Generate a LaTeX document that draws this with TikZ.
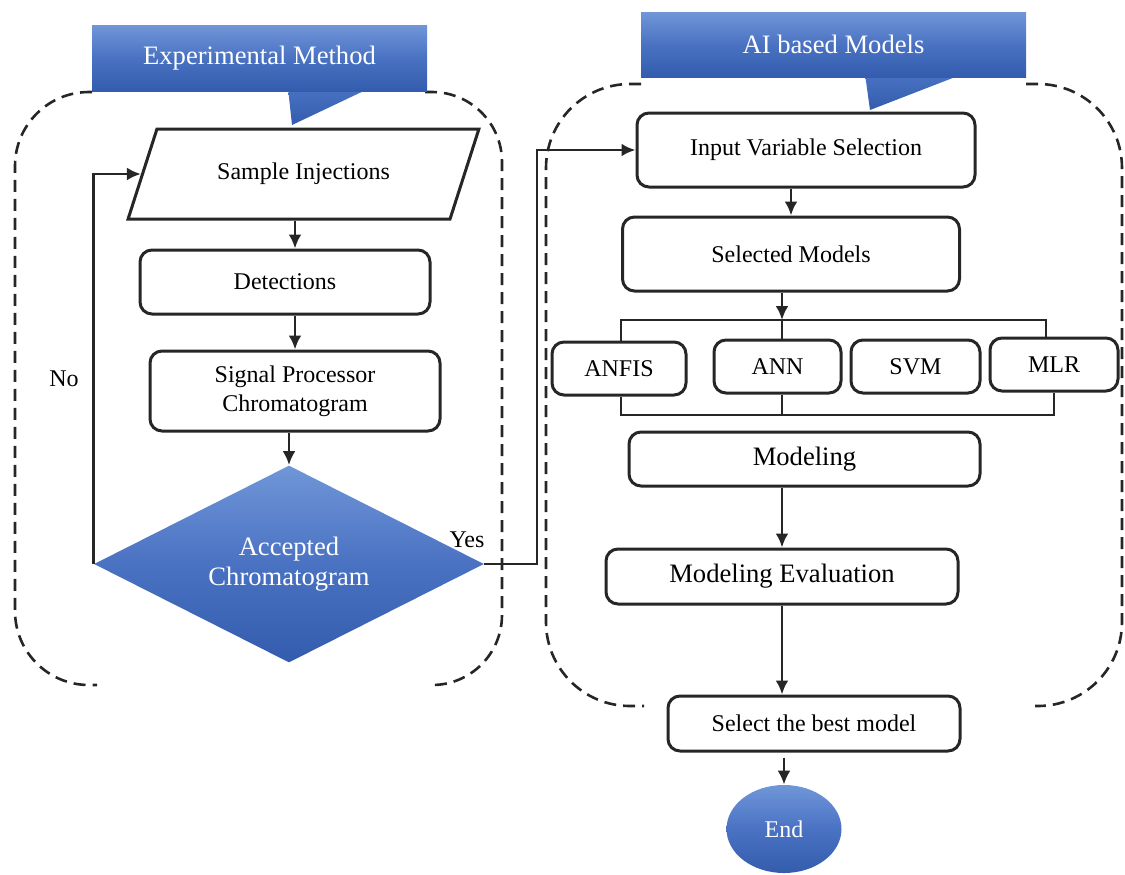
\documentclass[tikz,border=0pt]{standalone}
\usepackage{fontspec}
\setmainfont{Liberation Serif}
\usetikzlibrary{shapes.geometric,arrows.meta,positioning}

\definecolor{bannerlight}{RGB}{112,150,216}
\definecolor{bannermid}{RGB}{74,114,194}
\definecolor{bannerdark}{RGB}{52,92,174}

\begin{document}
\begin{tikzpicture}[x=0.5pt,y=-0.5pt,>={Latex[length=7pt,width=6.5pt]},
  font=\fontsize{12}{14.5}\selectfont,
  procbox/.style={draw=black!85,line width=1.5pt,rounded corners=6pt,align=center,inner sep=0pt},
  flowline/.style={black!85,line width=1.4pt},
  dashbox/.style={black!85,line width=1.3pt,dash pattern=on 6pt off 3.5pt},
  bluefill/.style={top color=bannerlight,bottom color=bannerdark,middle color=bannermid,text=white,inner sep=0pt},
  bigtext/.style={font=\fontsize{13.3}{15}\selectfont}]
  \useasboundingbox (0,0) rectangle (1125,874);

  % dashed containers
  \draw[dashbox,rounded corners=37pt] (92,92) -- (15,92) -- (15,685) -- (97,685);
  \draw[dashbox,rounded corners=35pt] (425,92) -- (502,92) -- (502,685) -- (430,685);
  \draw[dashbox,rounded corners=42pt] (641,84) -- (546,84) -- (546,706) -- (644,706);
  \draw[dashbox,rounded corners=42pt] (1026,84) -- (1122,84) -- (1122,706) -- (1035,706);

  % banners
  \shade[top color=bannermid,bottom color=bannerdark] (288,88) -- (292,125) -- (370,88) -- cycle;
  \node[bluefill,bigtext,minimum width=167.5pt,minimum height=33pt] (expbanner) at (259.5,58) {Experimental Method};
  \shade[top color=bannermid,bottom color=bannerdark] (865,74) -- (870,110) -- (963,74) -- cycle;
  \node[bluefill,bigtext,minimum width=192.5pt,minimum height=32.5pt] (aibanner) at (833.5,44.5) {AI based Models};

  % experimental method
  \node[draw=black!85,line width=1.5pt,trapezium,trapezium left angle=52,trapezium right angle=128,
    trapezium stretches=true,minimum width=175.5pt,minimum height=45pt,inner sep=0pt] (inj) at (303.5,174) {Sample Injections};
  \node[procbox,minimum width=145pt,minimum height=32pt] (det) at (285,282) {Detections};
  \node[procbox,minimum width=145pt,minimum height=40pt] (sig) at (295,391) {Signal Processor\\Chromatogram};
  \node[diamond,shape aspect=2,bluefill,bigtext,align=center,minimum width=195pt,minimum height=98.5pt] (dec) at (289,564) {Accepted\\Chromatogram};
  \node (nolabel) at (64,379) {No};
  \node (yeslabel) at (467,540) {Yes};

  % AI based models
  \node[procbox,minimum width=169pt,minimum height=37pt] (ivs) at (806,150) {Input Variable Selection};
  \node[procbox,minimum width=168.5pt,minimum height=37pt] (sel) at (791,254) {Selected Models};
  \node[procbox,minimum width=67pt,minimum height=26.5pt] (anfis) at (619,368.5) {ANFIS};
  \node[procbox,minimum width=63.5pt,minimum height=26.5pt] (ann) at (777.5,366.5) {ANN};
  \node[procbox,minimum width=64.5pt,minimum height=26.5pt] (svm) at (915.5,366.5) {SVM};
  \node[procbox,minimum width=64pt,minimum height=26.5pt] (mlr) at (1054,364.5) {MLR};
  \node[procbox,bigtext,minimum width=175.5pt,minimum height=27pt] (mod) at (804.5,459) {Modeling};
  \node[procbox,bigtext,minimum width=176pt,minimum height=27.5pt] (eva) at (782,576.5) {Modeling Evaluation};
  \node[procbox,minimum width=146pt,minimum height=27.5pt] (best) at (814,723.5) {Select the best model};
  \node[ellipse,bluefill,minimum width=57.5pt,minimum height=44pt] (finish) at (784,829) {End};

  \coordinate (yesbend) at (537,300);
  \coordinate (brtop) at (782,320);
  \coordinate (brbot) at (782,415);

  % connectors
  \draw[flowline,->] (inj.south -| sig) -- (det.north -| sig);
  \draw[flowline,->] (det.south -| sig) -- (sig.north);
  \draw[flowline,->] (sig.south -| dec) -- (dec.north);
  \draw[flowline,->] (dec.west) |- (inj.west);
  \draw[flowline,->] (dec.east) -| (yesbend) |- (ivs.west);
  \draw[flowline,->] (ivs.south -| sel) -- (sel.north);
  \draw[flowline,->] (sel.south -| brtop) -- (brtop);
  \draw[flowline] ([xshift=1pt]anfis.north) |- (brtop) -| ([xshift=-4pt]mlr.north);
  \draw[flowline] (brtop) -- (ann.north -| brtop);
  \draw[flowline] ([xshift=1pt]anfis.south) |- (brbot) -| (mlr.south);
  \draw[flowline] (ann.south -| brbot) -- (brbot);
  \draw[flowline,->] (mod.south -| eva) -- (eva.north);
  \draw[flowline,->] (eva.south) -- (eva.south |- best.north);
  \draw[flowline,->,shorten <=2.5pt] (best.south -| finish) -- (finish.north);

\end{tikzpicture}
\end{document}
